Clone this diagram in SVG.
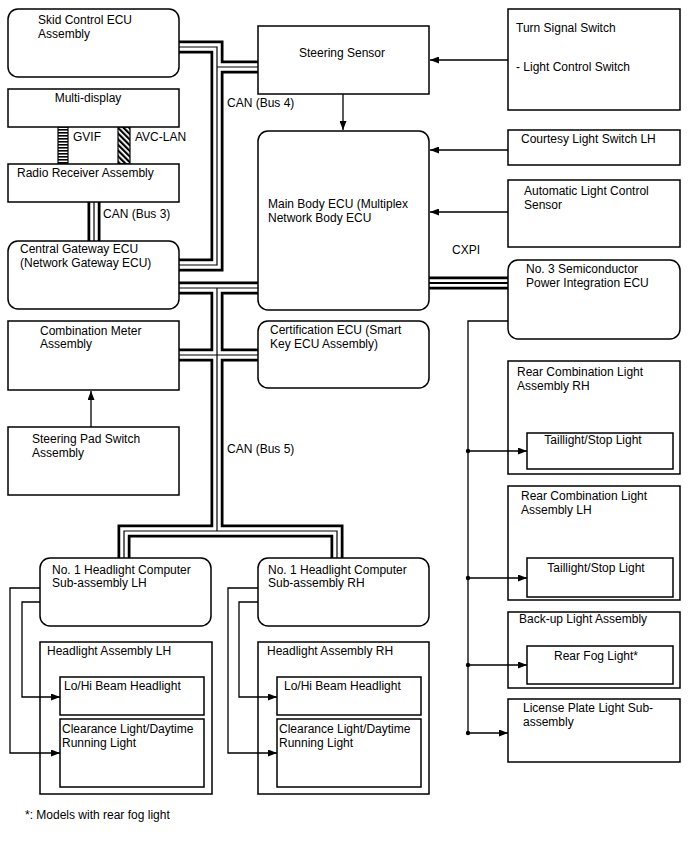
<svg xmlns="http://www.w3.org/2000/svg" width="688" height="852" viewBox="0 0 688 852">
<style>
.box{fill:#fff;stroke:#000;stroke-width:1.5}
.cont{fill:none;stroke:#000;stroke-width:1.5}
.t{font-family:"Liberation Sans",Arial,sans-serif;font-size:12px;fill:#000}
.m{text-anchor:middle}
.bo{fill:none;stroke:#000;stroke-width:13}
.bw{fill:none;stroke:#fff;stroke-width:7.5}
.bi{fill:none;stroke:#000;stroke-width:1.2}
.wire{fill:none;stroke:#000;stroke-width:1.3}
.arr{marker-end:url(#ah)}
</style>
<defs>
<marker id="ah" markerUnits="userSpaceOnUse" markerWidth="9" markerHeight="7" refX="9" refY="3.5" orient="auto"><path d="M0,0 L9,3.5 L0,7 z" fill="#000"/></marker>
<pattern id="ladder" patternUnits="userSpaceOnUse" width="10" height="3"><rect x="0" y="0" width="10" height="1.6" fill="#000"/></pattern>
<pattern id="hatch" patternUnits="userSpaceOnUse" width="4" height="4" patternTransform="rotate(-45)"><rect x="0" y="0" width="2.2" height="4" fill="#000"/></pattern>
<path id="b1" d="M179,47 H217 V265 H179 M217,67 H258"/>
<path id="b2" d="M179,288 H258 M217,288 V531 M179,355 H258 M124,558 V531 H337 V558"/>
<path id="b3" d="M94,202 V241"/>
<path id="b4" d="M429,283 H508"/>
</defs>
<rect width="688" height="852" fill="#fff"/>

<g id="connectors">
<use href="#b1" class="bo"/><use href="#b2" class="bo"/><use href="#b3" class="bo"/><use href="#b4" class="bo"/>
<use href="#b1" class="bw"/><use href="#b2" class="bw"/><use href="#b3" class="bw"/><use href="#b4" class="bw"/>
<use href="#b1" class="bi"/><use href="#b2" class="bi"/><use href="#b3" class="bi"/>
<path d="M429,283 H508" fill="none" stroke="#000" stroke-width="2"/>
<rect x="58" y="127" width="10" height="37" fill="url(#ladder)" stroke="#000" stroke-width="1.2"/>
<rect x="118" y="127" width="12" height="37" fill="url(#hatch)" stroke="#000" stroke-width="1.2"/>
<path class="wire arr" d="M508,60 H430"/>
<path class="wire arr" d="M508,150 H430"/>
<path class="wire arr" d="M508,212 H430"/>
<path class="wire arr" d="M343,94 V130"/>
<path class="wire arr" d="M91,427 V391"/>
<path class="wire" d="M508,321 H468 V733"/>
<path class="wire arr" d="M468,451 H527"/>
<path class="wire arr" d="M468,578 H527"/>
<path class="wire arr" d="M468,665 H527"/>
<path class="wire arr" d="M468,733 H508"/>
<circle cx="468" cy="451" r="2.2"/><circle cx="468" cy="578" r="2.2"/><circle cx="468" cy="665" r="2.2"/><circle cx="468" cy="733" r="2.2"/>
<path class="wire arr" d="M40,588 H10 V753 H60"/>
<path class="wire arr" d="M40,602 H22 V697 H60"/>
<path class="wire arr" d="M258,588 H228 V753 H277"/>
<path class="wire arr" d="M258,602 H239 V697 H277"/>
<text class="t" x="73" y="141">GVIF</text>
<text class="t" x="135" y="141">AVC-LAN</text>
<text class="t" x="103" y="218">CAN (Bus 3)</text>
<text class="t" x="227" y="107">CAN (Bus 4)</text>
<text class="t" x="227" y="453">CAN (Bus 5)</text>
<text class="t" x="452" y="254">CXPI</text>
</g>

<g id="skid"><rect class="box" x="8" y="9" width="171" height="68" rx="10"/><text class="t" x="38" y="24">Skid Control ECU</text><text class="t" x="38" y="38">Assembly</text></g>
<g id="multidisplay"><rect class="box" x="8" y="89" width="171" height="38"/><text class="t m" x="88" y="102">Multi-display</text></g>
<g id="radio"><rect class="box" x="8" y="164" width="171" height="38"/><text class="t" x="17" y="177">Radio Receiver Assembly</text></g>
<g id="gateway"><rect class="box" x="8" y="241" width="171" height="68" rx="10"/><text class="t" x="20" y="253">Central Gateway ECU</text><text class="t" x="20" y="267">(Network Gateway ECU)</text></g>
<g id="meter"><rect class="box" x="8" y="321" width="171" height="69"/><text class="t" x="40" y="335">Combination Meter</text><text class="t" x="40" y="348">Assembly</text></g>
<g id="steeringpad"><rect class="box" x="8" y="427" width="171" height="68"/><text class="t" x="32" y="443">Steering Pad Switch</text><text class="t" x="32" y="457">Assembly</text></g>
<g id="steeringsensor"><rect class="box" x="258" y="26" width="171" height="68"/><text class="t m" x="342" y="57">Steering Sensor</text></g>
<g id="mainbody"><rect class="box" x="258" y="131" width="171" height="179" rx="10"/><text class="t" x="268" y="208">Main Body ECU (Multiplex</text><text class="t" x="268" y="222">Network Body ECU</text></g>
<g id="certification"><rect class="box" x="258" y="321" width="171" height="67" rx="10"/><text class="t" x="270" y="334">Certification ECU (Smart</text><text class="t" x="270" y="348">Key ECU Assembly)</text></g>
<g id="turnsignal"><rect class="box" x="508" y="9" width="172" height="101"/><text class="t" x="516" y="32">Turn Signal Switch</text><text class="t" x="516" y="71"> - Light Control Switch</text></g>
<g id="courtesy"><rect class="box" x="508" y="130" width="172" height="35"/><text class="t" x="521" y="143">Courtesy Light Switch LH</text></g>
<g id="autolight"><rect class="box" x="508" y="180" width="172" height="67"/><text class="t" x="524" y="195">Automatic Light Control</text><text class="t" x="524" y="209">Sensor</text></g>
<g id="semiconductor"><rect class="box" x="508" y="260" width="172" height="79" rx="10"/><text class="t" x="526" y="273">No. 3 Semiconductor</text><text class="t" x="526" y="287">Power Integration ECU</text></g>
<g id="rclrh"><rect class="cont" x="508" y="361" width="172" height="113"/><text class="t" x="517" y="376">Rear Combination Light</text><text class="t" x="517" y="390">Assembly RH</text><rect class="box" x="527" y="433" width="146" height="36"/><text class="t m" x="593" y="444">Taillight/Stop Light</text></g>
<g id="rcllh"><rect class="cont" x="508" y="486" width="172" height="114"/><text class="t" x="521" y="500">Rear Combination Light</text><text class="t" x="521" y="514">Assembly LH</text><rect class="box" x="527" y="558" width="146" height="39"/><text class="t m" x="596" y="572">Taillight/Stop Light</text></g>
<g id="backup"><rect class="cont" x="508" y="612" width="172" height="76"/><text class="t" x="519" y="623">Back-up Light Assembly</text><rect class="box" x="527" y="646" width="146" height="38"/><text class="t m" x="596" y="660">Rear Fog Light*</text></g>
<g id="license"><rect class="box" x="508" y="699" width="172" height="63"/><text class="t" x="523" y="712">License Plate Light Sub-</text><text class="t" x="523" y="726">assembly</text></g>
<g id="hlcomplh"><rect class="box" x="40" y="558" width="171" height="68" rx="10"/><text class="t" x="52" y="574">No. 1 Headlight Computer</text><text class="t" x="52" y="587">Sub-assembly LH</text></g>
<g id="hlcomprh"><rect class="box" x="258" y="558" width="171" height="68" rx="10"/><text class="t" x="268" y="574">No. 1 Headlight Computer</text><text class="t" x="268" y="587">Sub-assembly RH</text></g>
<g id="hlassylh"><rect class="cont" x="40" y="642" width="172" height="152"/><text class="t" x="47" y="655">Headlight Assembly LH</text>
<rect class="box" x="60" y="677" width="144" height="38"/><text class="t" x="64" y="690">Lo/Hi Beam Headlight</text>
<rect class="box" x="60" y="719" width="144" height="68"/><text class="t" x="62" y="733">Clearance Light/Daytime</text><text class="t" x="62" y="747">Running Light</text></g>
<g id="hlassyrh"><rect class="cont" x="258" y="642" width="171" height="152"/><text class="t" x="267" y="655">Headlight Assembly RH</text>
<rect class="box" x="277" y="677" width="144" height="38"/><text class="t" x="284" y="690">Lo/Hi Beam Headlight</text>
<rect class="box" x="277" y="719" width="144" height="68"/><text class="t" x="279" y="733">Clearance Light/Daytime</text><text class="t" x="279" y="747">Running Light</text></g>
<text class="t" x="25" y="819">*: Models with rear fog light</text>
</svg>
